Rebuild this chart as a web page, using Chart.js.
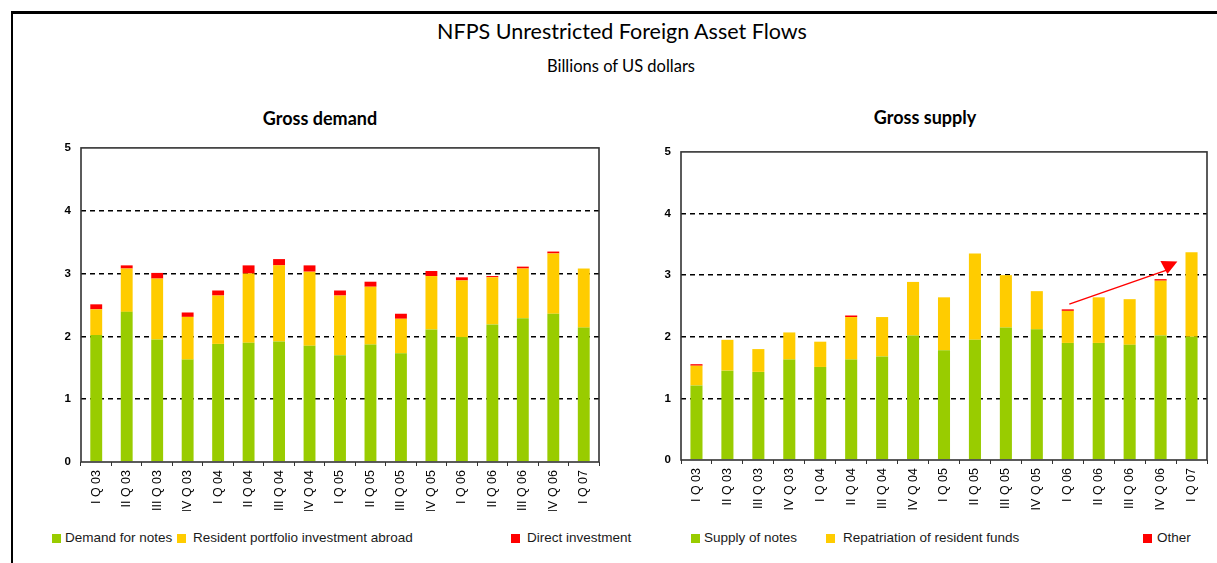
<!DOCTYPE html>
<html><head><meta charset="utf-8">
<script src="https://cdn.jsdelivr.net/npm/chart.js@4.4.0/dist/chart.umd.min.js"></script>
<style>
body{margin:0;width:1217px;height:563px;background:#fff;position:relative;overflow:hidden;font-family:'Liberation Sans',Arial,sans-serif}
.ft{position:absolute;left:11px;top:11px;width:1206px;height:3px;background:#000}
.fl{position:absolute;left:11px;top:11px;width:2px;height:552px;background:#000}
.t{position:absolute;font-family:Lato,'Open Sans',sans-serif;color:#000;white-space:nowrap;transform:translate(-50%,-50%)}
canvas{position:absolute}
.lg{position:absolute;font-size:13.5px;color:#1a1a1a;white-space:nowrap;line-height:16px}
.sq{position:absolute;width:9px;height:9px}
</style></head><body>
<div class="ft"></div><div class="fl"></div>
<div class="t" style="left:622px;top:31px;font-size:21.5px">NFPS Unrestricted Foreign Asset Flows</div>
<div class="t" style="left:621px;top:66px;font-size:16.5px">Billions of US dollars</div>
<div class="t" style="left:320px;top:118px;font-size:18px;font-weight:bold">Gross demand</div>
<div class="t" style="left:925px;top:117px;font-size:18px;font-weight:bold">Gross supply</div>
<canvas id="c1" width="560" height="380" style="left:50px;top:131px"></canvas>
<canvas id="c2" width="567" height="380" style="left:650px;top:135px"></canvas>
<div id="legends"></div>
<script>
const categories = ['I Q 03','II Q 03','III Q 03','IV Q 03','I Q 04','II Q 04','III Q 04','IV Q 04','I Q 05','II Q 05','III Q 05','IV Q 05','I Q 06','II Q 06','III Q 06','IV Q 06','I Q 07'];

const demandForNotes      = [2.02,2.39,1.95,1.63,1.88,1.90,1.92,1.85,1.70,1.87,1.73,2.11,1.99,2.19,2.29,2.36,2.14];
const residentPortfolio   = [0.41,0.69,0.97,0.68,0.77,1.10,1.21,1.18,0.95,0.92,0.55,0.85,0.90,0.75,0.79,0.96,0.94];
const directInvestment    = [0.08,0.05,0.09,0.07,0.08,0.13,0.10,0.10,0.08,0.08,0.08,0.08,0.05,0.02,0.03,0.03,0.00];

const supplyOfNotes       = [1.21,1.45,1.43,1.63,1.51,1.63,1.68,2.02,1.78,1.95,2.15,2.12,1.90,1.90,1.87,2.02,2.00];
const repatriation        = [0.32,0.50,0.37,0.44,0.41,0.69,0.64,0.87,0.86,1.40,0.85,0.62,0.52,0.74,0.74,0.89,1.37];
const otherSupply         = [0.025,0,0,0,0,0.025,0,0,0,0,0,0,0.025,0,0,0.025,0];

const yTicks = [0,1,2,3,4,5];
const leftLegend  = ['Demand for notes','Resident portfolio investment abroad','Direct investment'];
const rightLegend = ['Supply of notes','Repatriation of resident funds','Other'];
// arrow annotation on the supply chart: [category index, value]
const arrowFrom = [12.05, 2.53];
const arrowTo   = [15.22, 3.02];

const GREEN='#99CC00', YELLOW='#FFCC00', RED='#FF0000';

const boxPlugin = {
  id:'box',
  afterDraw(chart){
    const {ctx, chartArea:a} = chart;
    ctx.save();
    ctx.strokeStyle='#333'; ctx.lineWidth=1.6;
    ctx.strokeRect(a.left, a.top, a.right-a.left, a.bottom-a.top);
    ctx.restore();
  }
};
const arrowPlugin = {
  id:'arrow',
  afterDatasetsDraw(chart){
    const x=chart.scales.x, y=chart.scales.y, ctx=chart.ctx;
    const x0=x.getPixelForValue(arrowFrom[0]), y0=y.getPixelForValue(arrowFrom[1]);
    const x1=x.getPixelForValue(arrowTo[0]), y1=y.getPixelForValue(arrowTo[1]);
    ctx.save();
    ctx.strokeStyle=RED; ctx.fillStyle=RED; ctx.lineWidth=1.5;
    ctx.beginPath(); ctx.moveTo(x0,y0); ctx.lineTo(x1,y1-4); ctx.stroke();
    ctx.beginPath(); ctx.moveTo(x1-7,y1-13); ctx.lineTo(x1+10,y1-12.5); ctx.lineTo(x1,y1); ctx.closePath(); ctx.fill();
    ctx.restore();
  }
};

function makeChart(id, series, colors, labels, pad, xh, extra){
  return new Chart(document.getElementById(id), {
    type:'bar',
    data:{labels:categories, datasets: series.map((s,i)=>({label:labels[i], data:s, backgroundColor:colors[i], borderWidth:0, barPercentage:0.39, categoryPercentage:1}))},
    options:{
      responsive:false, animation:false, events:[],
      layout:{padding:pad},
      plugins:{legend:{display:false}, tooltip:{enabled:false}},
      scales:{
        x:{stacked:true, offset:true,
           grid:{offset:true, drawOnChartArea:false, tickLength:4, color:'#333', lineWidth:1},
           border:{display:false},
           ticks:{maxRotation:90, minRotation:90, autoSkip:false, padding:4, color:'#000', font:{family:'Liberation Sans', size:12.5}},
           afterFit(s){ s.height = xh; }},
        y:{stacked:true, min:0, max:5,
           afterBuildTicks(s){ s.ticks = yTicks.map(v=>({value:v})); },
           grid:{drawTicks:false, color:c=> (c.tick && (c.tick.value===0||c.tick.value===5)) ? 'rgba(0,0,0,0)' : '#000', lineWidth:1.4},
           border:{display:false, dash:[5,4]},
           ticks:{padding:10, color:'#000', font:{family:'Liberation Sans', size:11.5, weight:'bold'}},
           afterFit(s){ s.width = 31; }}
      }
    },
    plugins: extra
  });
}
makeChart('c1',[demandForNotes,residentPortfolio,directInvestment],[GREEN,YELLOW,RED],leftLegend,{top:0,right:11,left:0,bottom:0},49,[boxPlugin]);
makeChart('c2',[supplyOfNotes,repatriation,otherSupply],[GREEN,YELLOW,RED],rightLegend,{top:5,right:10,left:0,bottom:0},55,[boxPlugin,arrowPlugin]);

// legends
const lgPos = [[52,65],[177,193],[511,527],[691,704],[826,843],[1143,1157]];
const lgLabels = leftLegend.concat(rightLegend);
const lgColors = [GREEN,YELLOW,RED,GREEN,YELLOW,RED];
const L = document.getElementById('legends');
lgLabels.forEach((t,i)=>{
  const q=document.createElement('div'); q.className='sq'; q.style.left=lgPos[i][0]+'px'; q.style.top='534px'; q.style.background=lgColors[i]; L.appendChild(q);
  const d=document.createElement('div'); d.className='lg'; d.style.left=lgPos[i][1]+'px'; d.style.top='530px'; d.textContent=t; L.appendChild(d);
});
</script>
</body></html>
